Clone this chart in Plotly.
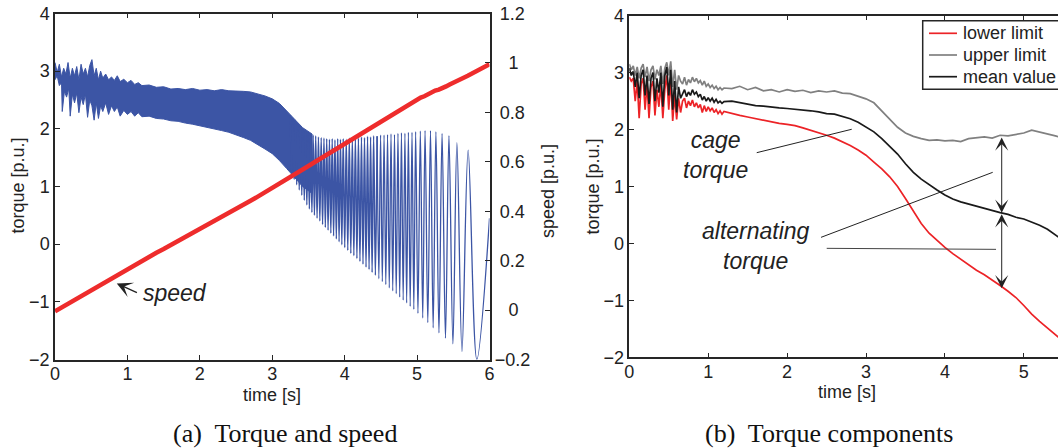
import plotly.graph_objects as go

W, H = 1058, 448
FONT = "Liberation Sans, Arial, sans-serif"
SERIF = "Liberation Serif, Times New Roman, serif"
BLUE = "#3c55a5"
RED_SPEED = "#ee2c2c"
RED = "#ec2327"
GRAY = "#808080"
BLACK = "#1a1a1a"
AXC = "#262626"

# ---------------- (a) Torque and speed ----------------
# dense part of torque oscillation: envelope [p.u.]
band_up_t = [0.00, 0.03, 0.06, 0.09, 0.12, 0.15, 0.18, 0.21, 0.24, 0.27, 0.30, 0.33, 0.36, 0.39,
             0.42, 0.45, 0.48, 0.51, 0.54, 0.57, 0.60, 0.63, 0.66, 0.70, 0.74, 0.78, 0.82, 0.86,
             0.90, 0.95, 1.00, 1.05, 1.10, 1.15, 1.20, 1.30, 1.40, 1.50, 1.60, 1.70, 1.80, 1.90,
             2.00, 2.10, 2.20, 2.30, 2.40, 2.50, 2.60, 2.70, 2.80, 2.90, 3.00, 3.10, 3.20, 3.30,
             3.42, 3.55]
band_up = [3.15, 2.98, 3.12, 2.90, 3.05, 2.95, 3.15, 2.88, 3.05, 2.92, 3.08, 2.85, 3.12, 2.95,
           3.05, 2.90, 3.10, 3.20, 2.92, 3.05, 2.85, 3.00, 2.88, 2.95, 2.85, 2.90, 2.84, 2.92,
           2.82, 2.86, 2.80, 2.84, 2.77, 2.80, 2.75, 2.76, 2.72, 2.73, 2.69, 2.70, 2.68, 2.70,
           2.67, 2.68, 2.66, 2.68, 2.66, 2.66, 2.65, 2.64, 2.61, 2.57, 2.52, 2.44, 2.31, 2.18,
           2.02, 1.91]
band_lo_t = [0.00, 0.03, 0.06, 0.09, 0.10, 0.13, 0.16, 0.19, 0.21, 0.24, 0.27, 0.30, 0.33, 0.36,
             0.39, 0.42, 0.45, 0.48, 0.51, 0.54, 0.57, 0.60, 0.63, 0.66, 0.70, 0.74, 0.78, 0.82,
             0.86, 0.90, 0.95, 1.00, 1.05, 1.10, 1.15, 1.20, 1.30, 1.40, 1.50, 1.60, 1.70, 1.80,
             1.90, 2.00, 2.10, 2.20, 2.30, 2.40, 2.50, 2.60, 2.70, 2.80, 2.90, 3.00, 3.10, 3.20,
             3.30, 3.42, 3.55]
band_lo = [2.85, 2.92, 2.75, 2.80, 2.30, 2.65, 2.55, 2.70, 2.22, 2.60, 2.45, 2.62, 2.28, 2.55,
           2.42, 2.60, 2.20, 2.50, 2.40, 2.15, 2.45, 2.18, 2.40, 2.30, 2.45, 2.25, 2.40, 2.30,
           2.38, 2.22, 2.32, 2.25, 2.30, 2.22, 2.28, 2.21, 2.22, 2.18, 2.17, 2.14, 2.13, 2.10,
           2.08, 2.05, 2.03, 2.00, 1.97, 1.94, 1.90, 1.85, 1.80, 1.73, 1.65, 1.57, 1.45, 1.31,
           1.16, 1.00, 0.88]

# resolved oscillation, dense stretch: alternating maxima / minima
osc1_t = [3.250, 3.2675, 3.285, 3.3025, 3.320, 3.3375, 3.355, 3.3725, 3.390, 3.4075,
          3.425, 3.4425, 3.460, 3.4775, 3.495, 3.5125, 3.530, 3.5475, 3.565, 3.5825,
          3.600, 3.619, 3.638, 3.657, 3.676, 3.695, 3.714, 3.733, 3.752, 3.771,
          3.790, 3.809, 3.828, 3.847, 3.866, 3.885, 3.904, 3.923, 3.942, 3.961,
          3.980, 4.001, 4.022, 4.043, 4.064, 4.085, 4.106, 4.127, 4.148, 4.169,
          4.190, 4.211, 4.232, 4.253, 4.274, 4.295, 4.316, 4.337, 4.358, 4.379,
          4.400, 4.424, 4.448]
osc1_v = [2.24, 1.20, 2.19, 1.12, 2.15, 1.03, 2.09, 0.94, 2.05, 0.85,
          2.00, 0.76, 1.97, 0.68, 1.93, 0.61, 1.92, 0.55, 1.89, 0.50,
          1.88, 0.45, 1.86, 0.40, 1.85, 0.34, 1.84, 0.29, 1.83, 0.24,
          1.82, 0.19, 1.83, 0.14, 1.81, 0.09, 1.83, 0.04, 1.82, -0.01,
          1.83, -0.06, 1.82, -0.11, 1.84, -0.16, 1.83, -0.20, 1.85, -0.25,
          1.84, -0.30, 1.86, -0.35, 1.85, -0.40, 1.87, -0.44, 1.86, -0.49,
          1.88, -0.54, 1.87]
# resolved oscillation, sparse stretch
osc2_t = [4.448, 4.472, 4.496, 4.520, 4.544, 4.568, 4.592, 4.616,
          4.640, 4.664, 4.688, 4.712, 4.736, 4.760, 4.784, 4.808, 4.832, 4.856,
          4.880, 4.905, 4.930, 4.955, 4.980, 5.012, 5.045, 5.078, 5.110, 5.148,
          5.185, 5.222, 5.260, 5.302, 5.345, 5.392, 5.440, 5.495, 5.550, 5.620,
          5.705, 5.825, 6.000]
osc2_v = [1.87, -0.60, 1.89, -0.65, 1.89, -0.70, 1.90, -0.76,
          1.91, -0.81, 1.90, -0.86, 1.92, -0.92, 1.93, -0.97, 1.92, -1.02,
          1.94, -1.08, 1.94, -1.13, 1.95, -1.20, 1.96, -1.28, 1.97, -1.36,
          1.97, -1.45, 1.95, -1.54, 1.92, -1.63, 1.88, -1.73, 1.76, -1.86,
          1.63, -2.00, 0.45]

# speed [p.u.]
speed_t = [0.0, 0.1, 0.2, 0.3, 0.4, 0.5, 0.6, 0.7, 0.8, 0.9, 1.0, 1.1, 1.2, 1.3, 1.4, 1.5,
           1.6, 1.7, 1.8, 1.9, 2.0, 2.1, 2.2, 2.3, 2.4, 2.5, 2.6, 2.7, 2.8, 2.9, 3.0, 3.1,
           3.2, 3.3, 3.4, 3.5, 3.6, 3.7, 3.8, 3.9, 4.0, 4.1, 4.2, 4.3, 4.4, 4.5, 4.6, 4.7,
           4.8, 4.9, 5.0, 5.05, 5.1, 5.15, 5.2, 5.25, 5.3, 5.35, 5.4, 5.45, 5.5, 5.6, 5.7,
           5.8, 5.9, 6.0]
speed = [-0.005, 0.012, 0.028, 0.046, 0.062, 0.080, 0.097, 0.115, 0.132, 0.151, 0.168,
         0.183, 0.200, 0.215, 0.232, 0.247, 0.263, 0.278, 0.294, 0.310, 0.325, 0.342,
         0.358, 0.375, 0.392, 0.408, 0.425, 0.442, 0.459, 0.476, 0.493, 0.511, 0.529,
         0.547, 0.565, 0.583, 0.601, 0.619, 0.637, 0.655, 0.673, 0.691, 0.709, 0.727,
         0.745, 0.764, 0.782, 0.800, 0.817, 0.834, 0.850, 0.860, 0.865, 0.874, 0.879,
         0.888, 0.892, 0.901, 0.905, 0.913, 0.919, 0.934, 0.948, 0.962, 0.978, 0.995]

# ---------------- (b) Torque components ----------------
comp_names = ["lower limit", "upper limit", "mean value"]
comp_colors = [RED, GRAY, BLACK]
comp_t = [0.000, 0.025, 0.050, 0.075, 0.100, 0.125, 0.150, 0.175, 0.200, 0.225, 0.250, 0.275,
          0.300, 0.325, 0.350, 0.375, 0.400, 0.425, 0.450, 0.475, 0.500, 0.525, 0.550, 0.575,
          0.600, 0.625, 0.650, 0.675, 0.700, 0.725, 0.750, 0.775, 0.800, 0.825, 0.850, 0.875,
          0.900, 0.925, 0.950, 0.975, 1.000, 1.025, 1.050, 1.075, 1.100, 1.125, 1.150, 1.175,
          1.200, 1.3, 1.4, 1.5, 1.6, 1.7, 1.8, 1.9, 2.0, 2.1, 2.2, 2.3, 2.4, 2.5, 2.6, 2.7,
          2.8, 2.9, 3.0, 3.1, 3.2, 3.3, 3.4, 3.5, 3.6, 3.7, 3.8, 3.9, 4.0, 4.1, 4.2, 4.3,
          4.4, 4.5, 4.6, 4.7, 4.8, 4.9, 5.0, 5.1, 5.2, 5.3, 5.4, 5.45]
upper_limit = [3.15, 3.05, 3.12, 2.95, 3.10, 2.90, 3.08, 3.15, 2.92, 3.10, 2.85, 3.05,
               3.12, 2.88, 3.05, 2.95, 3.12, 2.80, 3.08, 3.18, 2.95, 3.20, 2.75, 3.05,
               2.70, 2.95, 2.85, 2.80, 2.92, 2.78, 2.88, 2.82, 2.92, 2.84, 2.90, 2.82,
               2.86, 2.78, 2.85, 2.76, 2.80, 2.74, 2.78, 2.72, 2.76, 2.70, 2.74, 2.70,
               2.73, 2.72, 2.76, 2.70, 2.74, 2.68, 2.70, 2.66, 2.70, 2.67, 2.69, 2.65,
               2.68, 2.66, 2.68, 2.64, 2.63, 2.59, 2.54, 2.47, 2.33, 2.18, 2.04, 1.94,
               1.88, 1.84, 1.81, 1.82, 1.80, 1.81, 1.79, 1.84, 1.85, 1.87, 1.85, 1.90,
               1.89, 1.92, 1.94, 1.99, 1.96, 1.93, 1.89, 1.87]
mean_value = [3.08, 2.95, 3.02, 2.75, 3.00, 2.55, 2.95, 3.05, 2.60, 2.95, 2.45, 2.90,
              3.00, 2.50, 2.90, 2.65, 3.00, 2.40, 2.95, 3.10, 2.60, 3.05, 2.35, 2.85,
              2.30, 2.75, 2.55, 2.62, 2.70, 2.58, 2.66, 2.60, 2.70, 2.62, 2.66, 2.58,
              2.62, 2.52, 2.58, 2.50, 2.56, 2.50, 2.55, 2.48, 2.53, 2.47, 2.50, 2.46,
              2.49, 2.50, 2.47, 2.45, 2.42, 2.41, 2.39, 2.38, 2.37, 2.36, 2.35, 2.33,
              2.31, 2.28, 2.27, 2.23, 2.19, 2.13, 2.05, 1.96, 1.84, 1.71, 1.57, 1.40,
              1.25, 1.13, 1.03, 0.94, 0.85, 0.78, 0.73, 0.69, 0.65, 0.61, 0.57, 0.54,
              0.51, 0.46, 0.43, 0.38, 0.32, 0.25, 0.15, 0.10]
lower_limit = [2.92, 2.85, 2.90, 2.50, 2.85, 2.20, 2.80, 2.90, 2.35, 2.80, 2.20, 2.75,
               2.85, 2.25, 2.70, 2.40, 2.80, 2.20, 2.70, 2.95, 2.35, 2.90, 2.15, 2.60,
               2.18, 2.55, 2.30, 2.50, 2.55, 2.38, 2.50, 2.42, 2.52, 2.40, 2.47, 2.38,
               2.44, 2.30, 2.42, 2.32, 2.40, 2.33, 2.38, 2.30, 2.35, 2.28, 2.33, 2.27,
               2.32, 2.28, 2.25, 2.22, 2.19, 2.16, 2.13, 2.11, 2.09, 2.07, 2.03, 1.99,
               1.95, 1.90, 1.85, 1.79, 1.72, 1.64, 1.55, 1.43, 1.31, 1.17, 1.00, 0.79,
               0.56, 0.35, 0.18, 0.05, -0.07, -0.18, -0.28, -0.38, -0.47, -0.55, -0.64, -0.74,
               -0.84, -0.95, -1.09, -1.24, -1.37, -1.48, -1.60, -1.66]
comp_values = [lower_limit, upper_limit, mean_value]

# ---------------- figure ----------------
fig = go.Figure()

# (a) torque: dense band as filled envelope
fig.add_trace(go.Scatter(
    x=band_up_t + band_lo_t[::-1], y=band_up + band_lo[::-1],
    mode="lines", fill="toself", fillcolor=BLUE,
    line=dict(color=BLUE, width=1), xaxis="x", yaxis="y",
    showlegend=False, hoverinfo="skip"))
# (a) torque: resolved oscillation
fig.add_trace(go.Scatter(
    x=osc1_t, y=osc1_v, mode="lines",
    line=dict(color=BLUE, width=1.5, shape="spline", smoothing=1),
    xaxis="x", yaxis="y", showlegend=False, hoverinfo="skip"))
fig.add_trace(go.Scatter(
    x=osc2_t, y=osc2_v, mode="lines",
    line=dict(color=BLUE, width=1.3, shape="spline", smoothing=1),
    xaxis="x", yaxis="y", showlegend=False, hoverinfo="skip"))
# (a) speed
fig.add_trace(go.Scatter(
    x=speed_t, y=speed, mode="lines", line=dict(color=RED_SPEED, width=4.5),
    xaxis="x", yaxis="y2", showlegend=False, hoverinfo="skip"))

# (b) components
for name, col, vals in zip(comp_names, comp_colors, comp_values):
    fig.add_trace(go.Scatter(x=comp_t, y=vals, mode="lines", name=name,
                             line=dict(color=col, width=1.7), xaxis="x2", yaxis="y3",
                             showlegend=False))

tickfont = dict(family=FONT, size=18, color="#222")
ax_common = dict(showline=True, linecolor=AXC, linewidth=1.5, ticks="inside", ticklen=5,
                 tickcolor=AXC, tickwidth=1, showgrid=False, zeroline=False,
                 tickfont=tickfont)

speed_ticks = [-0.2, 0, 0.2, 0.4, 0.6, 0.8, 1, 1.2]
# centred-looking labels for the right axis
speed_ticktext = ["\u22120.2", "\u00a0\u00a0\u20090", "\u00a00.2", "\u00a00.4", "\u00a00.6",
                  "\u00a00.8", "\u00a0\u00a0\u20091", "\u00a01.2"]

fig.update_layout(
    width=W, height=H, margin=dict(l=0, r=0, t=0, b=0, autoexpand=False),
    paper_bgcolor="white", plot_bgcolor="white", showlegend=False,
    xaxis=dict(domain=[55 / W, 489.5 / W], range=[0, 6], tickvals=[0, 1, 2, 3, 4, 5, 6],
               mirror="ticks", anchor="y", ticklabelstandoff=-3, **ax_common),
    yaxis=dict(domain=[1 - 359.5 / H, 1 - 13.5 / H], range=[-2, 4],
               tickvals=[-2, -1, 0, 1, 2, 3, 4], anchor="x", **ax_common),
    yaxis2=dict(domain=[1 - 359.5 / H, 1 - 13.5 / H], range=[-0.2, 1.2],
                tickvals=speed_ticks, ticktext=speed_ticktext, overlaying="y", side="right",
                anchor="x", ticklabelstandoff=0, **ax_common),
    xaxis2=dict(domain=[629.3 / W, 1.0], range=[0, (W - 629.3) / 78.9],
                tickvals=[0, 1, 2, 3, 4, 5], mirror="ticks", anchor="y3",
                ticklabelstandoff=-3, **ax_common),
    yaxis3=dict(domain=[1 - 357.3 / H, 1 - 15.7 / H], range=[-2, 4],
                tickvals=[-2, -1, 0, 1, 2, 3, 4], anchor="x2", **ax_common),
)

# legend of (b), drawn in paper pixels (box runs off the right edge as in the original)
LEG_L, LEG_T, LEG_B = 922.7, 20.7, 89.3
fig.add_shape(type="rect", x0=LEG_L / W, x1=1.02, y0=1 - LEG_B / H, y1=1 - LEG_T / H,
              xref="paper", yref="paper", line=dict(color=AXC, width=1.5),
              fillcolor="white", layer="above")
for i, (name, col) in enumerate(zip(comp_names, comp_colors)):
    yy = 1 - (33.3 + 21.7 * i) / H
    fig.add_shape(type="line", x0=929 / W, x1=957 / W, y0=yy, y1=yy, xref="paper",
                  yref="paper", line=dict(color=col, width=1.7), layer="above")
    fig.add_annotation(text=name, x=960.5 / W, y=yy, xref="paper", yref="paper",
                       showarrow=False, xanchor="left", yanchor="middle",
                       font=dict(family=FONT, size=18, color="#222"))

# axis titles
def title(text, x, y, angle=0, size=18):
    fig.add_annotation(text=text, x=x / W, y=1 - y / H, xref="paper", yref="paper",
                       showarrow=False, textangle=angle,
                       font=dict(family=FONT, size=size, color="#222"),
                       xanchor="center", yanchor="middle")

title("torque [p.u.]", 17.5, 186, -90)
title("time [s]", 272, 395)
title("speed [p.u.]", 548, 191, -90)
title("torque [p.u.]", 592.5, 187, -90)
title("time [s]", 846.7, 392)

# captions
for txt, cx in [("(a)  Torque and speed", 285), ("(b)  Torque components", 829)]:
    fig.add_annotation(text=txt, x=cx / W, y=1 - 433 / H, xref="paper", yref="paper",
                       showarrow=False, font=dict(family=SERIF, size=26, color="#111"),
                       xanchor="center", yanchor="middle")

ital = dict(family=FONT, size=23, color="#222", style="italic")

# (a) speed annotation
fig.add_annotation(x=0.853, y=-0.68, ax=1.152, ay=-0.852, xref="x", yref="y",
                   axref="x", ayref="y", showarrow=True, arrowhead=3, arrowsize=2,
                   arrowwidth=1.3, arrowcolor="#222", text="")
fig.add_annotation(x=1.659, y=-0.852, xref="x", yref="y", text="speed", showarrow=False,
                   font=ital, xanchor="center", yanchor="middle")

# (b) annotations
fig.add_annotation(x=1.096, y=1.56, xref="x2", yref="y3", text="cage<br>torque",
                   showarrow=False, font=ital, xanchor="center", yanchor="middle")
fig.add_annotation(x=1.60, y=-0.045, xref="x2", yref="y3", text="alternating<br>torque",
                   showarrow=False, font=ital, xanchor="center", yanchor="middle")
for (x0, y0, x1, y1, c) in [(1.615, 1.594, 2.819, 2.005, "#222"),
                             (2.43, 0.107, 4.606, 1.249, "#222"),
                             (2.502, -0.086, 4.648, -0.104, "#444")]:
    fig.add_shape(type="line", x0=x0, y0=y0, x1=x1, y1=y1, xref="x2", yref="y3",
                  line=dict(color=c, width=1))
for (ya, yb) in [(1.887, 0.54), (0.54, -0.788)]:
    fig.add_annotation(x=4.72, y=yb, ax=4.72, ay=ya, xref="x2", yref="y3",
                       axref="x2", ayref="y3", showarrow=True, arrowside="end+start",
                       arrowhead=3, startarrowhead=3, arrowsize=2.2, startarrowsize=2.2,
                       arrowwidth=1, arrowcolor="#222", text="", standoff=0,
                       startstandoff=0)

fig.write_html("out.html")
